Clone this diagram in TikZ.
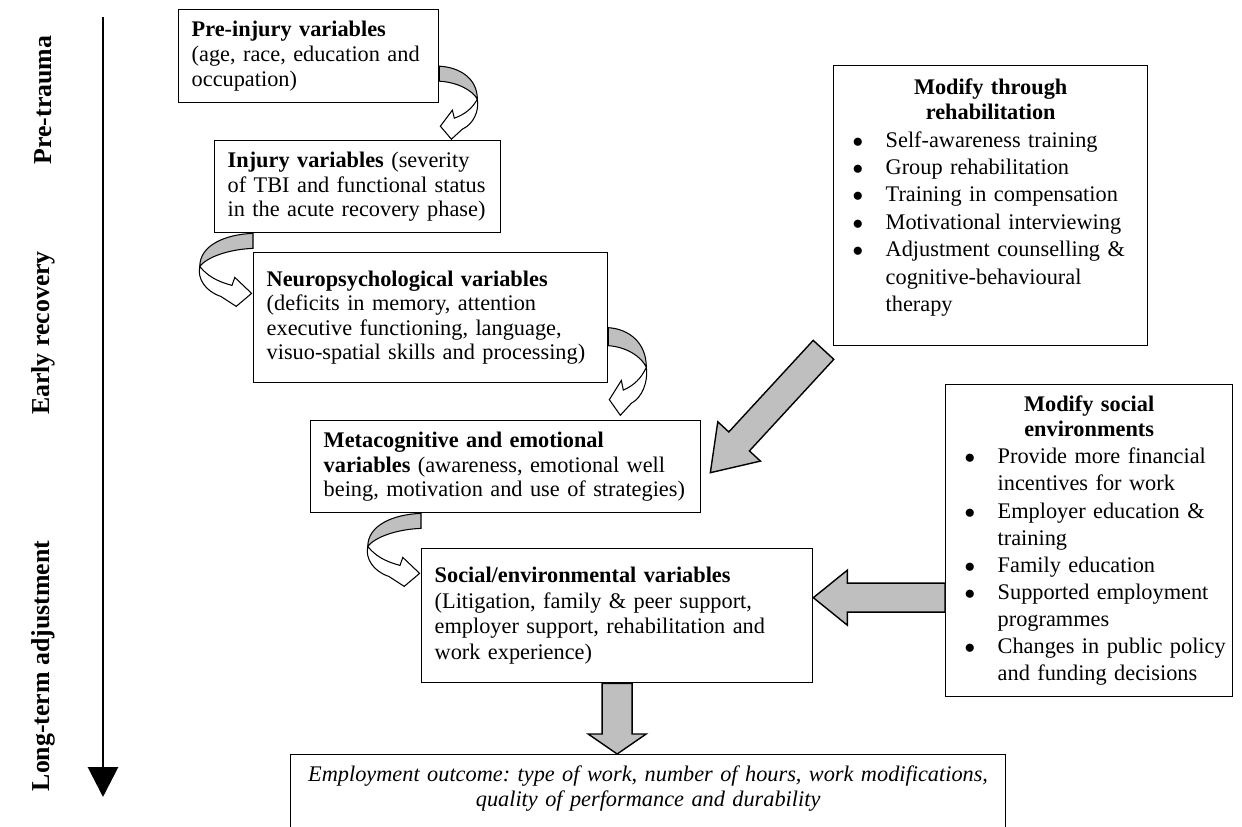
\documentclass[tikz,border=0pt]{standalone}
\usepackage{fontspec}
\setmainfont{Liberation Serif}
\usepackage{tikz}
\usetikzlibrary{arrows.meta,calc}

\frenchspacing
\hyphenpenalty=10000
\exhyphenpenalty=10000
% bullet line with hanging indent
\newcommand{\bul}{\par\hangindent=0.94cm\hangafter=1\noindent\hspace*{0.28cm}\makebox[0.66cm][l]{$\bullet$}}
% curved ribbon arrow (bulging right, head pointing back left)
\newcommand{\ribbon}[2]{%
  \begin{scope}[shift={#1},#2]
    \draw[ribback] (0,0) .. controls (20,1) and (38,12) .. (38,33)
      .. controls (33,24) and (18,16) .. (0,15) -- cycle;
    \draw[ribfront] (38,33) .. controls (40,45) and (34,58) .. (23,63)
      -- (12,73) -- (1,60) -- (13,44) -- (15,52)
      .. controls (26,48) and (33,42) .. (38,33) -- cycle;
  \end{scope}}
% block arrow: tail, tip, half shaft, half head, head length
\newcommand{\fatarrow}[5]{%
  \coordinate (hb) at ($(#2)!#5!(#1)$);
  \draw[blockarrow] ($(#1)!#3!90:(#2)$) -- ($(hb)!#3!-90:(#1)$)
    -- ($(hb)!#4!-90:(#1)$) -- (#2) -- ($(hb)!#4!90:(#1)$)
    -- ($(hb)!#3!90:(#1)$) -- ($(#1)!#3!-90:(#2)$) -- cycle;}

\begin{document}
\begin{tikzpicture}[x=0.02cm, y=-0.02cm,
  varbox/.style={draw, line width=0.8pt, fill=white, inner xsep=0.26cm, inner ysep=0.15cm,
    align=left, anchor=north west, font=\fontsize{12.7}{14}\selectfont},
  listbox/.style={varbox, inner xsep=0.1cm, font=\fontsize{12.7}{15.4}\selectfont},
  phase/.style={rotate=90, font=\bfseries\fontsize{14.7}{15}\selectfont},
  ribback/.style={draw, line width=0.6pt, fill=black!25},
  ribfront/.style={draw, line width=0.6pt, fill=white},
  blockarrow/.style={draw, line width=0.8pt, fill=black!25, line join=miter},
  timeline/.style={line width=1.7pt, -{Triangle[length=0.6cm,width=0.6cm]}}]
  \useasboundingbox (0,0) rectangle (1242,827);
  \clip (0,0) rectangle (1242,827);

  % time axis
  \coordinate (axtop) at (103,17);
  \coordinate (axbot) at (103,797);
  \draw[timeline] (axtop) -- (axbot);
  \node[phase] (ph1) at (43,100) {Pre-trauma};
  \node[phase] (ph2) at (43,333) {Early recovery};
  \node[phase] (ph3) at (43,666) {Long-term adjustment};

  % chain of variables
  \node[varbox, text width=4.68cm, minimum height=1.86cm] (pre) at (178,9)
    {\textbf{Pre-injury variables}\\(age, race, education and\\occupation)};
  \node[varbox, text width=5.2cm, minimum height=1.84cm] (inj) at (214,140)
    {\textbf{Injury variables} (severity\\of TBI and functional status\\in the acute recovery phase)};
  \node[varbox, text width=6.56cm, minimum height=2.6cm] (neuro) at (253,252)
    {\textbf{Neuropsychological variables}\\(deficits in memory, attention\\executive functioning, language,\\visuo-spatial skills and processing)};
  \node[varbox, text width=7.28cm, minimum height=1.84cm] (meta) at (310,420)
    {\textbf{Metacognitive and emotional}\\\textbf{variables} (awareness, emotional well\\being, motivation and use of strategies)};
  \node[varbox, text width=7.3cm, minimum height=2.68cm, font=\fontsize{12.7}{14.7}\selectfont] (soc) at (421,548)
    {\textbf{Social/environmental variables}\\(Litigation, family \& peer support,\\employer support, rehabilitation and\\work experience)};
  \node[varbox, text width=14.1cm, align=center, inner xsep=0.1cm, inner ysep=0.22cm,
    font=\fontsize{12.7}{14.4}\selectfont\itshape] (outc) at (290,754)
    {Employment outcome: type of work, number of hours, work modifications,\\quality of performance and durability\\\rule{0pt}{1.2cm}};

  % interventions
  \node[listbox, text width=6.08cm, minimum height=5.6cm, font=\fontsize{12.7}{15.6}\selectfont] (rehab) at (833,65)
    {{\centering\bfseries\fontsize{12.7}{14.2}\selectfont Modify through\\rehabilitation\par}
     \bul Self-awareness training
     \bul Group rehabilitation
     \bul Training in compensation
     \bul Motivational interviewing
     \bul Adjustment counselling \&\newline cognitive-behavioural\newline therapy\par\kern0.32cm};
  \node[listbox, text width=5.54cm, minimum height=6.24cm] (socenv) at (945,384)
    {{\centering\bfseries\fontsize{12.7}{14.2}\selectfont Modify social\\environments\par}
     \bul Provide more financial\newline incentives for work
     \bul Employer education \&\newline training
     \bul Family education
     \bul Supported employment\newline programmes
     \bul Changes in public policy\newline and funding decisions\par};

  % curved arrows between stages
  \ribbon{($(pre.east)+(0,10)$)}{}
  \ribbon{(neuro.west |- inj.south)}{xscale=-1.4}
  \ribbon{($(neuro.east)+(0,10)$)}{yscale=1.2}
  \ribbon{(soc.west |- meta.south)}{xscale=-1.4}

  % block arrows
  \coordinate (t1) at ($(rehab.south west)+(-9.5,3.5)$);
  \coordinate (h1) at ($(meta.east)+(9,6)$);
  \fatarrow{t1}{h1}{0.28cm}{0.58cm}{0.85cm}
  \coordinate (h2) at ($(soc.east)+(0,-18)$);
  \coordinate (t2) at (socenv.west |- h2);
  \fatarrow{t2}{h2}{0.29cm}{0.55cm}{0.68cm}
  \coordinate (h3) at (soc.south |- outc.north);
  \fatarrow{soc.south}{h3}{0.3cm}{0.58cm}{0.4cm}
\end{tikzpicture}
\end{document}
